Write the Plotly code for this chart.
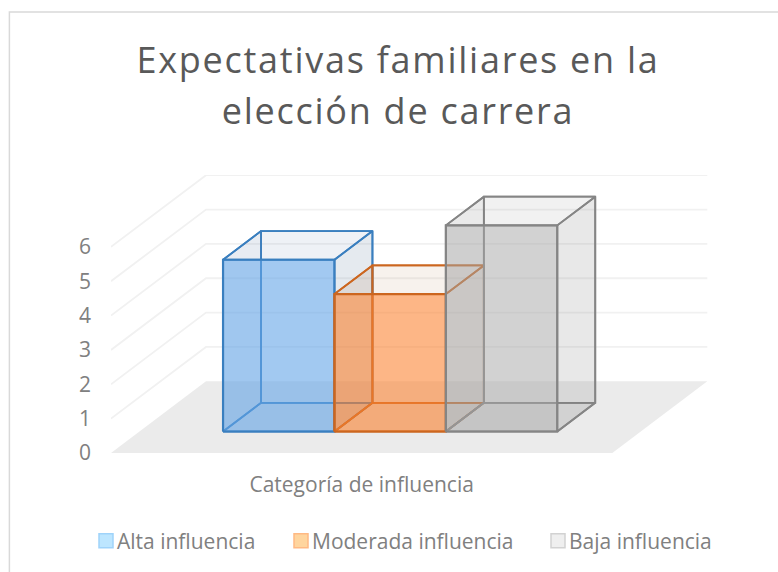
import plotly.graph_objects as go

category = ["Categoría de influencia"]
series_names = ["Alta influencia", "Moderada influencia", "Baja influencia"]
series_values = [5, 4, 6]
y_ticks = [0, 1, 2, 3, 4, 5, 6]

W, H = 778, 572
L, R, T, B = 110.6, 708.6, 175, 453
UX = 111.4   # px per bar width
UY = 34.35   # px per value unit
DX = 95 / UX   # floor depth in x units
DY = 71.7 / UY # floor depth in y units
XMIN, XMAX = -2.25, 2.25
D0, D1 = 0.30, 0.70

front_fill = ["rgba(100,165,232,0.6)", "rgba(252,130,47,0.58)", "rgba(165,165,165,0.5)"]
top_fill = ["rgba(100,130,170,0.11)", "rgba(170,110,60,0.09)", "rgba(120,120,120,0.10)"]
side_fill = ["rgba(100,130,160,0.17)", "rgba(170,110,60,0.10)", "rgba(120,120,120,0.17)"]
floor_fill = ["rgba(100,130,160,0.04)", "rgba(170,110,60,0.04)", "rgba(120,120,120,0.05)"]
edge = ["#3A7FBF", "#CC661F", "#858585"]
sw_fill = ["#BDE6FF", "#FFD59E", "#EFEFEF"]
sw_line = ["#9FD3FA", "#FFB983", "#D2D2D2"]


def pr(x, v, d):
    return x + d * DX, v + d * DY


fig = go.Figure()


def poly(pts, fill=None, line=None, width=0, close=True):
    p = [pr(*q) for q in pts]
    if close:
        p = p + [p[0]]
    fig.add_trace(go.Scatter(
        x=[a for a, _ in p], y=[b for _, b in p], mode="lines",
        fill="toself" if fill else "none", fillcolor=fill,
        line=dict(color=line or "rgba(0,0,0,0)", width=width),
        hoverinfo="skip", showlegend=False))


# floor
poly([(XMIN, 0, 0), (XMAX, 0, 0), (XMAX, 0, 1), (XMIN, 0, 1)], fill="#EBEBEB")
# gridlines: left wall and back wall
for t in y_ticks[1:]:
    poly([(XMIN, t, 0), (XMIN, t, 1), (XMAX, t, 1)], line="#F1F1F1", width=1.8, close=False)

# bars
n = len(series_values)
for i, v in enumerate(series_values):
    x0 = -n / 2 + i
    x1 = x0 + 1
    c = edge[i]
    poly([(x0, 0, D0), (x1, 0, D0), (x1, 0, D1), (x0, 0, D1)], fill=floor_fill[i], line=c, width=1.8)
    poly([(x0, 0, D1), (x1, 0, D1), (x1, v, D1), (x0, v, D1)], fill="rgba(255,255,255,0.05)", line=c, width=1.8)
    poly([(x0, 0, D0), (x0, 0, D1), (x0, v, D1), (x0, v, D0)], fill=floor_fill[i], line=c, width=1.8)
    poly([(x1, 0, D0), (x1, 0, D1), (x1, v, D1), (x1, v, D0)], fill=side_fill[i], line=c, width=1.8)
    poly([(x0, v, D0), (x1, v, D0), (x1, v, D1), (x0, v, D1)], fill=top_fill[i], line=c, width=1.8)
    poly([(x0, 0, D0), (x1, 0, D0), (x1, v, D0), (x0, v, D0)], fill=front_fill[i], line=c, width=2.2)

# legend keys
text_x = [117, 312, 569]
legend_names = ["legend", "legend2", "legend3"]
for i, name in enumerate(series_names):
    fig.add_trace(go.Scatter(
        x=[None], y=[None], mode="markers", name=name, legend=legend_names[i],
        marker=dict(symbol="square", size=14, color=sw_fill[i], line=dict(color=sw_line[i], width=1.5)),
        hoverinfo="skip"))

legend_font = dict(family="Open Sans", size=21, color="#808080")
layout_legends = {}
for i, nm in enumerate(legend_names):
    layout_legends[nm] = dict(
        x=(text_x[i] - 40) / W, xref="container", xanchor="left",
        y=1 - 541 / H, yref="container", yanchor="middle",
        font=legend_font, bgcolor="rgba(0,0,0,0)", itemwidth=30, borderwidth=0)

fig.update_layout(
    width=W, height=H,
    autosize=False,
    margin=dict(l=L, r=W - R, t=T, b=H - B, pad=0, autoexpand=False),
    paper_bgcolor="white", plot_bgcolor="rgba(0,0,0,0)",
    font=dict(family="Open Sans", color="#808080"),
    title=dict(
        text="Expectativas familiares en la<br>elección de carrera",
        x=398 / W, xanchor="center", xref="container",
        y=1 - 72.5 / H, yanchor="middle", yref="container",
        font=dict(family="Open Sans", size=36, color="#595959")),
    xaxis=dict(range=[XMIN, XMIN + (R - L) / UX], showgrid=False, zeroline=False, showline=False,
               tickvals=[0], ticktext=category, ticks="", tickfont=dict(size=21, color="#808080"),
               ticklabelstandoff=17, fixedrange=True),
    yaxis=dict(range=[0, (B - T) / UY], showgrid=False, zeroline=False, showline=False,
               tickvals=y_ticks, ticks="", tickfont=dict(size=21, color="#808080"),
               ticklabelstandoff=19, fixedrange=True),
    shapes=[dict(type="rect", xref="paper", yref="paper",
                 x0=(9 - L) / (R - L), x1=(800 - L) / (R - L),
                 y0=(B - 600) / (B - T), y1=(B - 12) / (B - T),
                 line=dict(color="#D9D9D9", width=1.5), fillcolor="rgba(0,0,0,0)", layer="below")],
    **layout_legends,
)

post = ("document.body.style.margin='0';"
        "document.querySelectorAll('.legendsymbols').forEach(function(g)"
        "{g.setAttribute('transform','translate(9,0)');});"
        "document.querySelectorAll('.gtitle').forEach(function(t)"
        "{t.style.letterSpacing='1.75px';});"
        "document.querySelectorAll('.gtitle .line').forEach(function(l,i)"
        "{if(i>0){l.setAttribute('dy','51px');}});")
fig.write_html("out.html", post_script=post, config={"displayModeBar": False})
